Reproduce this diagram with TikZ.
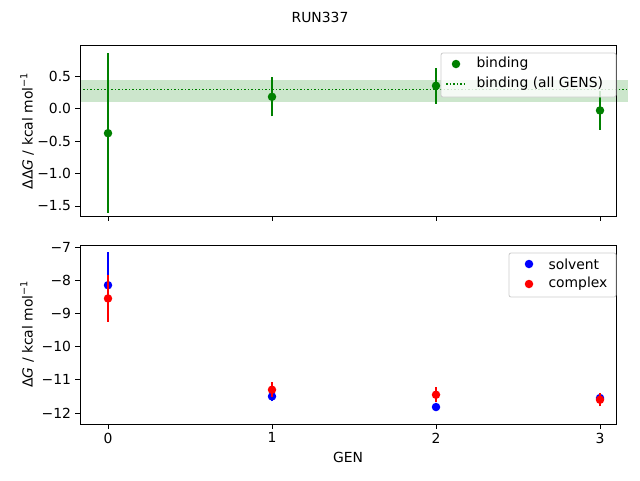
\documentclass[tikz,border=0pt]{standalone}
\usepackage{fontspec}
\setmainfont{DejaVu Sans}
\usetikzlibrary{positioning}
\definecolor{mplgreen}{rgb}{0,0.5,0}
\tikzset{
  frame/.style={line width=0.8pt,black},
  tick/.style={line width=0.8pt,black},
  ticklab/.style={font=\fontsize{13.9}{16}\selectfont,inner sep=0pt},
  dot/.style={circle,inner sep=0pt,minimum size=8.5pt,fill=#1,draw=none},
  errbar/.style={line width=1.5pt,color=#1},
  legbox/.style={draw=black!20,fill=white,fill opacity=0.8,text opacity=1,rounded corners=2pt,line width=0.8pt}
}
\begin{document}
\begin{tikzpicture}[x=1pt,y=-1pt,font=\fontsize{13.9}{16}\selectfont]
\useasboundingbox (0,0) rectangle (640,480);
\node (title) at (320,17) {RUN337};
% top panel
\begin{scope}[shift={(108,108.5)},x=164pt,y=65pt]
\fill[mplgreen,opacity=0.2] (-0.171,0.44) rectangle (3.171,0.10);
\draw[mplgreen,line width=1.5pt,dotted] (-0.171,0.29) -- (3.171,0.29);
\foreach \g/\v/\e in {0/-0.38/1.23,1/0.18/0.30,2/0.35/0.28,3/-0.03/0.30}{
  \draw[errbar=mplgreen] (\g,\v-\e) -- (\g,\v+\e);
  \node[dot=mplgreen] (b\g) at (\g,\v) {};
}
\foreach \v/\t in {0.5/0.5,0/0.0,-0.5/−0.5,-1/−1.0,-1.5/−1.5}{
  \draw[tick] (-0.171,\v) -- ++(-5pt,0) node[ticklab,left=3.5pt] {\t};
}
\foreach \g in {0,...,3}{\draw[tick] (\g,-1.655) -- ++(0,-5pt);}
\end{scope}
\draw[frame] (80,45) rectangle (616,216);
\node[rotate=90] (ylabA) at (27,131) {ΔΔ\textit{G} / kcal mol\textsuperscript{−1}};
\node[legbox,minimum width=175pt,minimum height=44pt] (legA) at (528.5,75) {};
\node[dot=mplgreen] (legdotA) at (456,64) {};
\node[anchor=west] (legtA) at (473,64) {binding};
\draw[mplgreen,line width=1.5pt,dotted] (446,84) -- (466,84);
\node[anchor=west] (legtB) at (473,84) {binding (all GENS)};
% bottom panel
\begin{scope}[shift={(108,247)},x=164pt,y=33.2pt]
\foreach \g/\v/\e in {0/-8.15/1.0,1/-11.5/0.15,2/-11.82/0.1,3/-11.55/0.15}{
  \draw[errbar=blue] (\g,\v+7-\e) -- (\g,\v+7+\e);
  \node[dot=blue] (s\g) at (\g,\v+7) {};
}
\foreach \g/\v/\e in {0/-8.55/0.7,1/-11.3/0.22,2/-11.45/0.22,3/-11.6/0.2}{
  \draw[errbar=red] (\g,\v+7-\e) -- (\g,\v+7+\e);
  \node[dot=red] (c\g) at (\g,\v+7) {};
}
\foreach \v/\t in {0/−7,-1/−8,-2/−9,-3/−10,-4/−11,-5/−12}{
  \draw[tick] (-0.171,\v) -- ++(-5pt,0) node[ticklab,left=3.5pt] {\t};
}
\foreach \g in {0,...,3}{\draw[tick] (\g,-5.33) -- ++(0,-5pt) node[ticklab,below=3.5pt] {\g};}
\end{scope}
\draw[frame] (80,245) rectangle (616,424);
\node[rotate=90] (ylabB) at (27,334) {Δ\textit{G} / kcal mol\textsuperscript{−1}};
\node (xlab) at (348,457) {GEN};
\node[legbox,minimum width=107pt,minimum height=44pt] (legB) at (562.5,275) {};
\node[dot=blue] (legdotS) at (529,264) {};
\node[anchor=west] (legtS) at (545,264) {solvent};
\node[dot=red] (legdotC) at (529,284) {};
\node[anchor=west] (legtC) at (545,284) {complex};
\end{tikzpicture}
\end{document}
